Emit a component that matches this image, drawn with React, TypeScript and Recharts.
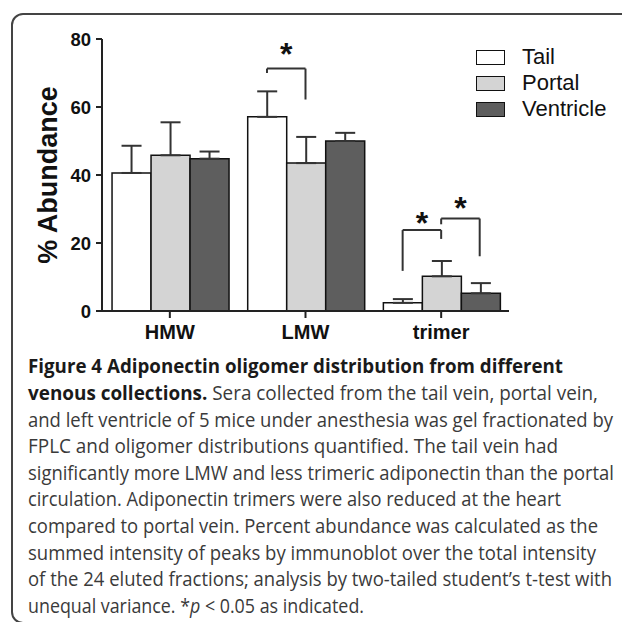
import React from 'react';
import { BarChart, Bar, XAxis, YAxis, ErrorBar, Legend, ReferenceLine, ReferenceDot, Label } from 'recharts';

const categories = ['HMW', 'LMW', 'trimer'];
const tailValues = [40.6, 57.1, 2.4];
const tailErrors = [8.0, 7.5, 1.1];
const portalValues = [45.8, 43.5, 10.2];
const portalErrors = [9.7, 7.7, 4.5];
const ventricleValues = [44.8, 50.0, 5.2];
const ventricleErrors = [2.1, 2.4, 3.0];
const yTicks = [0, 20, 40, 60, 80];

// significance brackets, heights in % abundance
const brackets = [
  { cat: 1, from: 0, to: 1, top: 71.3, leftEnd: 70.0, rightEnd: 62.2, star: 77.4 },
  { cat: 2, from: 0, to: 1, top: 23.8, leftEnd: 11.8, rightEnd: 21.2, star: 27.6 },
  { cat: 2, from: 1, to: 2, top: 27.2, leftEnd: 25.5, rightEnd: 16.1, star: 32.0 },
];

const series = [
  { key: 'tail', err: 'tailErr', name: 'Tail', fill: '#ffffff' },
  { key: 'portal', err: 'portalErr', name: 'Portal', fill: '#d4d4d4' },
  { key: 'ventricle', err: 'ventricleErr', name: 'Ventricle', fill: '#5e5e5e' },
];

const captionLines: { text: string; bold?: boolean; italic?: boolean }[][] = [
  [{ text: 'Figure 4 Adiponectin oligomer distribution from different', bold: true }],
  [{ text: 'venous collections.', bold: true }, { text: ' Sera collected from the tail vein, portal vein,' }],
  [{ text: 'and left ventricle of 5 mice under anesthesia was gel fractionated by' }],
  [{ text: 'FPLC and oligomer distributions quantified. The tail vein had' }],
  [{ text: 'significantly more LMW and less trimeric adiponectin than the portal' }],
  [{ text: 'circulation. Adiponectin trimers were also reduced at the heart' }],
  [{ text: 'compared to portal vein. Percent abundance was calculated as the' }],
  [{ text: 'summed intensity of peaks by immunoblot over the total intensity' }],
  [{ text: 'of the 24 eluted fractions; analysis by two-tailed student\u2019s t-test with' }],
  [{ text: 'unequal variance. *' }, { text: 'p', italic: true }, { text: ' < 0.05 as indicated.' }],
];
const captionWidths = [535, 570, 585, 530, 586, 533, 570, 568, 584, 336];

const data = categories.map((name, i) => ({
  name,
  slot: i + 0.5,
  tail: tailValues[i],
  tailErr: [0, tailErrors[i]],
  portal: portalValues[i],
  portalErr: [0, portalErrors[i]],
  ventricle: ventricleValues[i],
  ventricleErr: [0, ventricleErrors[i]],
}));

const FONT = '"Liberation Sans", Arial, sans-serif';
const GAP = 0.074;
const barCenter = (cat: number, idx: number) => cat + GAP + ((idx + 0.5) * (1 - 2 * GAP)) / 3;

const renderLegend = () => (
  <div>
    {series.map((s) => (
      <div key={s.key} style={{ display: 'flex', alignItems: 'center', height: 26 }}>
        <span style={{ width: 29, height: 15, background: s.fill, border: '1.5px solid #111', boxSizing: 'border-box', marginRight: 17 }} />
        <span style={{ fontSize: 22, fontFamily: FONT, color: '#111' }}>{s.name}</span>
      </div>
    ))}
  </div>
);

const Star = (p: any) => (
  <text x={p.cx} y={p.cy + 17} textAnchor="middle" fontSize={32} fontWeight="bold" fontFamily={FONT} fill="#111">*</text>
);

export default function App() {
  return (
    <div style={{ position: 'absolute', left: 0, top: 0, width: 622, height: 622, background: '#fff', overflow: 'hidden' }}>
      <div style={{ position: 'absolute', left: 10.5, top: 12.5, width: 660, height: 611, border: '2px solid #444', borderRadius: 12, boxSizing: 'border-box' }} />
      <div style={{ position: 'absolute', left: 0, top: 0 }}>
        <BarChart width={622} height={350} data={data} margin={{ top: 39, right: 113, bottom: 9, left: 0 }} barCategoryGap={`${GAP * 100}%`} barGap={0}>
          <XAxis dataKey="name" xAxisId="cat" stroke="#222" strokeWidth={2} tickSize={7} tickMargin={7}
            tick={{ fontSize: 20, fontWeight: 'bold', fontFamily: FONT, fill: '#111' }} height={30} />
          <XAxis xAxisId="ann" dataKey="slot" type="number" orientation="top" domain={[0, 3]} allowDataOverflow hide height={0} />
          <YAxis domain={[0, 80]} ticks={yTicks} width={102} stroke="#222" strokeWidth={2} tickSize={6} tickMargin={5}
            tick={{ fontSize: 18.5, fontWeight: 'bold', fontFamily: FONT, fill: '#111' }}>
            <Label value="% Abundance" angle={-90} position="insideLeft" offset={47}
              style={{ textAnchor: 'middle', fontSize: 27, fontWeight: 'bold', fontFamily: FONT, fill: '#111' }} />
          </YAxis>
          <Legend layout="vertical" align="center" verticalAlign="middle" content={renderLegend}
            wrapperStyle={{ left: 476, top: 44, width: 146 }} />
          {series.map((s) => (
            <Bar key={s.key} dataKey={s.key} name={s.name} xAxisId="cat" fill={s.fill} stroke="#111" strokeWidth={1.5} isAnimationActive={false}>
              <ErrorBar dataKey={s.err} width={10} stroke="#333" strokeWidth={2} direction="y" isAnimationActive={false} />
            </Bar>
          ))}
          {brackets.map((b, i) => {
            const x1 = barCenter(b.cat, b.from);
            const x2 = barCenter(b.cat, b.to);
            return (
              <React.Fragment key={i}>
                <ReferenceLine xAxisId="ann" segment={[{ x: x1, y: b.leftEnd }, { x: x1, y: b.top }]} stroke="#333" strokeWidth={2} />
                <ReferenceLine xAxisId="ann" segment={[{ x: x1, y: b.top }, { x: x2, y: b.top }]} stroke="#333" strokeWidth={2} />
                <ReferenceLine xAxisId="ann" segment={[{ x: x2, y: b.top }, { x: x2, y: b.rightEnd }]} stroke="#333" strokeWidth={2} />
                <ReferenceDot xAxisId="ann" x={(x1 + x2) / 2} y={b.star} r={0} shape={Star} />
              </React.Fragment>
            );
          })}
        </BarChart>
      </div>
      <svg width={622} height={622} style={{ position: 'absolute', left: 0, top: 0, pointerEvents: 'none' }}>
        {captionLines.map((line, i) => (
          <text key={i} x={28} y={373.3 + i * 26.6} textLength={captionWidths[i]} lengthAdjust="spacingAndGlyphs"
            fontFamily='"Open Sans", "Noto Sans", sans-serif' fontSize={19.5} fill="#3a3a3a">
            {line.map((seg, j) => (
              <tspan key={j} fontWeight={seg.bold ? 'bold' : 'normal'} fontStyle={seg.italic ? 'italic' : 'normal'}
                fill={seg.bold ? '#1a1a1a' : '#3a3a3a'}>{seg.text}</tspan>
            ))}
          </text>
        ))}
      </svg>
    </div>
  );
}
